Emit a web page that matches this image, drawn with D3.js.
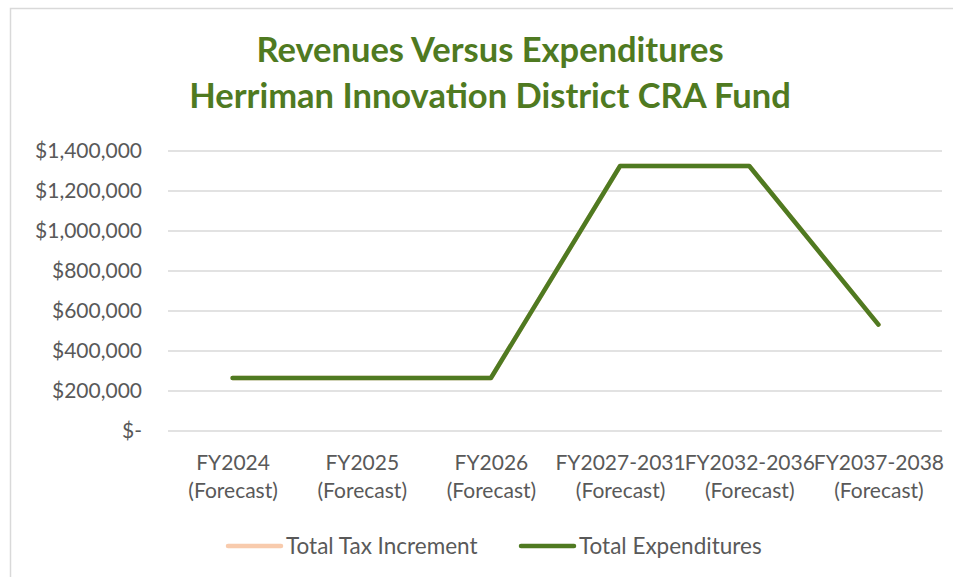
<!DOCTYPE html>
<html>
<head>
<meta charset="utf-8">
<script src="https://cdn.jsdelivr.net/npm/d3@7"></script>
<style>
  body { margin: 0; background: #fff; }
  svg { display: block; font-family: Lato, "Open Sans", sans-serif; }
</style>
</head>
<body>
<div id="chart"></div>
<script>
// categories and values
var categories = ["FY2024|(Forecast)", "FY2025|(Forecast)", "FY2026|(Forecast)",
                  "FY2027-2031|(Forecast)", "FY2032-2036|(Forecast)", "FY2037-2038|(Forecast)"];
var taxIncrement = [265000, 265000, 265000, 1325000, 1325000, 532000];
var expenditures = [265000, 265000, 265000, 1325000, 1325000, 532000];
var yTicks = [0, 200000, 400000, 600000, 800000, 1000000, 1200000, 1400000];
var titleLines = ["Revenues Versus Expenditures", "Herriman Innovation District CRA Fund"];
var seriesNames = ["Total Tax Increment", "Total Expenditures"];

var width = 953, height = 577;
var green = "#4f7a21", peach = "#f8cbad", grid = "#d9d9d9", textCol = "#595959";

var svg = d3.select("#chart").append("svg")
  .attr("width", width)
  .attr("height", height);

// chart frame (cut off at right and bottom)
svg.append("rect")
  .attr("x", 10.5).attr("y", 8.5)
  .attr("width", 980).attr("height", 620)
  .attr("fill", "none")
  .attr("stroke", grid)
  .attr("stroke-width", 1.5);

// title
svg.append("g").selectAll("text")
  .data(titleLines).enter()
  .append("text")
  .attr("x", 490)
  .attr("y", (d, i) => 62 + i * 46)
  .attr("text-anchor", "middle")
  .attr("fill", green)
  .attr("font-weight", "bold")
  .attr("font-size", 34.5)
  .text(d => d);

var x = d3.scalePoint()
  .domain(categories)
  .range([168, 943])
  .padding(0.5);

var y = d3.scaleLinear()
  .domain([0, 1400000])
  .range([431, 151]);

// gridlines
svg.append("g")
  .selectAll("line")
  .data(yTicks).enter()
  .append("line")
  .attr("x1", 168).attr("x2", 942)
  .attr("y1", d => y(d)).attr("y2", d => y(d))
  .attr("stroke", grid)
  .attr("stroke-width", 1.5);

// y axis
var fmt = d3.format(",");
var yAxis = d3.axisLeft(y)
  .tickValues(yTicks)
  .tickSize(0)
  .tickPadding(0)
  .tickFormat(d => d === 0 ? "$-" : "$" + fmt(d));

svg.append("g")
  .attr("transform", "translate(142,0)")
  .call(yAxis)
  .call(g => g.select(".domain").remove())
  .selectAll("text")
  .attr("font-family", "Lato, sans-serif")
  .attr("font-size", 21)
  .attr("fill", textCol);

// x axis, two-line labels
var xAxis = d3.axisBottom(x).tickSize(0).tickPadding(0).tickFormat("");
var xg = svg.append("g")
  .attr("transform", "translate(0,431)")
  .call(xAxis)
  .call(g => g.select(".domain").remove());

xg.selectAll(".tick").append("text")
  .attr("text-anchor", "middle")
  .attr("font-family", "Lato, sans-serif")
  .attr("font-size", 21)
  .attr("fill", textCol)
  .selectAll("tspan")
  .data(d => d.split("|")).enter()
  .append("tspan")
  .attr("x", 0)
  .attr("y", (d, i) => 39 + i * 28)
  .text(d => d);

// lines
var line = d3.line()
  .x((d, i) => x(categories[i]))
  .y(d => y(d));

svg.append("path")
  .attr("d", line(taxIncrement))
  .attr("fill", "none")
  .attr("stroke", peach)
  .attr("stroke-width", 4.5)
  .attr("stroke-linecap", "round")
  .attr("stroke-linejoin", "round");

svg.append("path")
  .attr("d", line(expenditures))
  .attr("fill", "none")
  .attr("stroke", green)
  .attr("stroke-width", 4.5)
  .attr("stroke-linecap", "round")
  .attr("stroke-linejoin", "round");

// legend
var legendX = [228, 521];
var legendColors = [peach, green];
var legend = svg.append("g").selectAll("g")
  .data(seriesNames).enter()
  .append("g")
  .attr("transform", (d, i) => "translate(" + legendX[i] + ",546)");

legend.append("line")
  .attr("x1", 0).attr("x2", 53)
  .attr("stroke", (d, i) => legendColors[i])
  .attr("stroke-width", 4.5)
  .attr("stroke-linecap", "round");

legend.append("text")
  .attr("x", 58)
  .attr("y", 8)
  .attr("font-size", 22.5)
  .attr("fill", textCol)
  .text(d => d);
</script>
</body>
</html>
